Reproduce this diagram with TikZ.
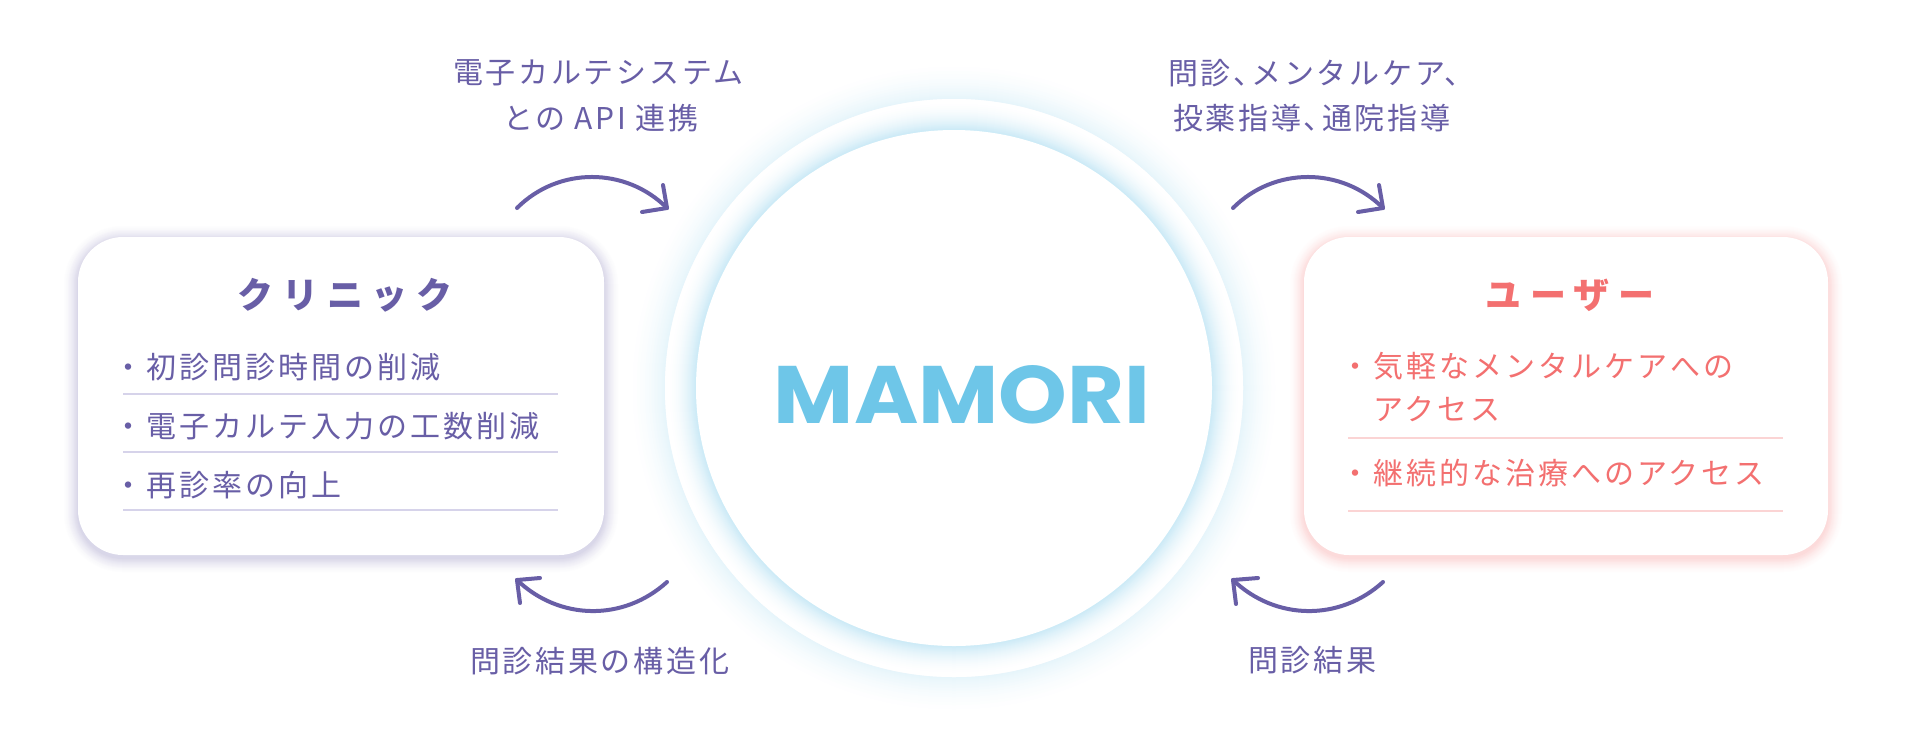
\documentclass[tikz,border=0pt]{standalone}
\usepackage{fontspec}
\usetikzlibrary{calc}
\newfontfamily\jpA{Noto Sans CJK JP}[LetterSpace=10]
\newfontfamily\jpL{Noto Sans CJK JP}[LetterSpace=9]
\newfontfamily\jpT{Noto Sans CJK JP}[LetterSpace=24]
\newfontfamily\logofont{Poppins}
\definecolor{purp}{RGB}{104,94,166}
\definecolor{salm}{RGB}{243,112,112}
\definecolor{sky}{RGB}{110,198,232}
\definecolor{ringc}{RGB}{120,200,232}
\definecolor{seppurp}{RGB}{214,211,234}
\definecolor{seppink}{RGB}{251,212,212}
\begin{document}
\begin{tikzpicture}[x=1pt,y=-1pt,
  lbl/.style={font=\jpL\fontsize{30}{36}\selectfont, text=purp, inner sep=0, anchor=west},
  ttl/.style={font=\jpT\bfseries\fontsize{36}{40}\selectfont, inner sep=0},
  itm/.style={font=\jpA\fontsize{30}{36}\selectfont, inner sep=0, anchor=west},
  arr/.style={draw=purp, line width=4, line cap=round, line join=round},
  sepl/.style={line width=2.5}
]
\useasboundingbox (0,0) rectangle (1907,748);
\fill[white] (0,0) rectangle (1907,748);

% ---- central rings ----
\coordinate (c) at (954,388);
\foreach \d [evaluate=\d as \k using {int(19*(1-\d/42)^2)}] in {42,41,...,1}
  \fill[ringc!\k!white] (c) circle[radius=289+\d];
\fill[white] (c) circle[radius=289];
\foreach \d [evaluate=\d as \k using {int(40*(1-\d/31)^2)}] in {31,30,...,1}
  \fill[ringc!\k!white] (c) circle[radius=258+\d];
\fill[white] (c) circle[radius=258];
\node[inner sep=0, text=sky] (mamori) at (962,395) {\resizebox{376pt}{58pt}{\logofont\bfseries MAMORI}};

% ---- clinic box ----
\foreach \i [evaluate=\i as \k using {int(28*(1-\i/16)^1.5)}, evaluate=\i as \r using 45+\i] in {16,15,...,1}
  \fill[purp!\k!white, rounded corners=\r] (78-\i,237-\i+3) rectangle (604+\i,555+\i+3);
\fill[white, rounded corners=45] (78,237) rectangle (604,555);
\node[ttl, text=purp] (clinic) at (345,295) {クリニック};
\node[itm, text=purp] (c1) at (113,367) {・初診問診時間の削減};
\node[itm, text=purp] (c2) at (113,426) {・電子カルテ入力の工数削減};
\node[itm, text=purp] (c3) at (113,485) {・再診率の向上};
\coordinate (cs1a) at (123,394); \coordinate (cs1b) at (558,394);
\coordinate (cs2a) at (123,452); \coordinate (cs2b) at (558,452);
\coordinate (cs3a) at (123,510); \coordinate (cs3b) at (558,510);
\draw[sepl, seppurp] (cs1a) -- (cs1b);
\draw[sepl, seppurp] (cs2a) -- (cs2b);
\draw[sepl, seppurp] (cs3a) -- (cs3b);

% ---- user box ----
\foreach \i [evaluate=\i as \k using {int(28*(1-\i/16)^1.5)}, evaluate=\i as \r using 45+\i] in {16,15,...,1}
  \fill[salm!\k!white, rounded corners=\r] (1304-\i,237-\i+3) rectangle (1828+\i,555+\i+3);
\fill[white, rounded corners=45] (1304,237) rectangle (1828,555);
\node[ttl, text=salm] (user) at (1570,295) {ユーザー};
\node[itm, text=salm] (u1) at (1340,366) {・気軽なメンタルケアへの};
\node[itm, text=salm] (u1b) at (1373,409) {アクセス};
\node[itm, text=salm] (u2) at (1340,473) {・継続的な治療へのアクセス};
\coordinate (us1a) at (1348,438); \coordinate (us1b) at (1783,438);
\coordinate (us2a) at (1348,511); \coordinate (us2b) at (1783,511);
\draw[sepl, seppink] (us1a) -- (us1b);
\draw[sepl, seppink] (us2a) -- (us2b);

% ---- labels ----
\node[lbl] (tl1) at (453,73) {電子カルテシステム};
\node[lbl] (tl2) at (503,118) {との API 連携};
\node[lbl] (tr1) at (1168,73) {問診、\kern-12pt メンタルケア、};
\node[lbl] (tr2) at (1173,118) {投薬指導、\kern-12pt 通院指導};
\node[lbl] (bl) at (470,661) {問診結果の構造化};
\node[lbl] (br) at (1248,660) {問診結果};

% ---- arrows ----
\coordinate (a1s) at (517,208); \coordinate (a1t) at (667,208);
\draw[arr] (a1s) to[bend left=45] (a1t);
\draw[arr] ($(a1t)+(-4,-23)$) -- (a1t) -- ($(a1t)+(-25,4)$);

\coordinate (a2s) at (1233,208); \coordinate (a2t) at (1383,208);
\draw[arr] (a2s) to[bend left=45] (a2t);
\draw[arr] ($(a2t)+(-4,-23)$) -- (a2t) -- ($(a2t)+(-25,4)$);

\coordinate (a3s) at (667,582); \coordinate (a3t) at (517,580);
\draw[arr] (a3s) to[bend left=43] (a3t);
\draw[arr] ($(a3t)+(23,-2)$) -- (a3t) -- ($(a3t)+(3,23)$);

\coordinate (a4s) at (1383,582); \coordinate (a4t) at (1233,580);
\draw[arr] (a4s) to[bend left=43] (a4t);
\draw[arr] ($(a4t)+(25,-2)$) -- (a4t) -- ($(a4t)+(3,24)$);
\end{tikzpicture}
\end{document}
